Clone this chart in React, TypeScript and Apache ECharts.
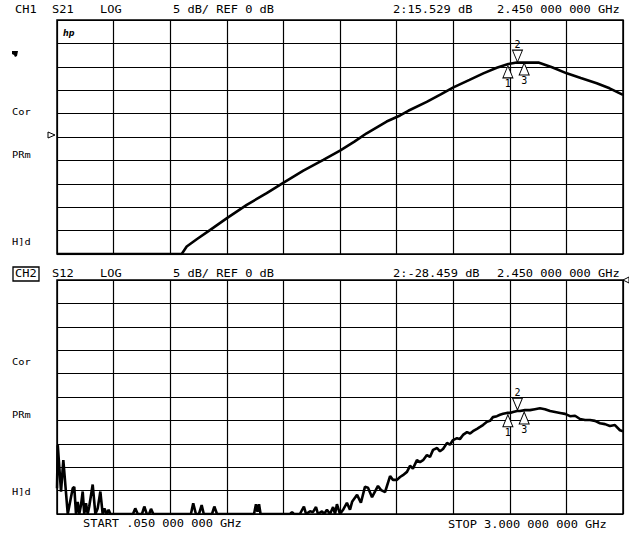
import React, { useEffect, useRef } from "react";
import * as echarts from "echarts";

// Sweep: START .050 GHz, STOP 3.000 GHz, 10 divisions
const START_GHZ = 0.05;
const STOP_GHZ = 3.0;
const DIVISIONS = 10;

// CH1 S21 (dB), REF 0 dB at centre, 5 dB/div
const CH1_FREQ = [0.05, 0.70, 0.726, 0.78, 0.847, 0.934, 1.039, 1.143, 1.229, 1.334, 1.438, 1.525, 1.60, 1.664, 1.768, 1.838, 1.881, 1.977, 2.05, 2.116, 2.20, 2.272, 2.342, 2.402, 2.446, 2.50, 2.559, 2.63, 2.707, 2.78, 2.863, 2.93, 3.0];
const CH1_DB = [-25, -25, -23.4, -21.8, -19.9, -17.4, -14.5, -12.0, -9.8, -7.2, -4.9, -2.9, -1.0, 0.8, 3.3, 4.6, 5.6, 7.5, 9.1, 10.6, 12.2, 13.6, 14.8, 15.6, 15.9, 15.9, 15.9, 14.9, 13.6, 12.6, 11.5, 10.4, 9.0];

// CH2 S12 (dB), REF 0 dB at top, 5 dB/div
const CH2_FREQ = [0.050, 0.054, 0.071, 0.083, 0.106, 0.132, 0.140, 0.149, 0.158, 0.166, 0.175, 0.184, 0.192, 0.201, 0.210, 0.218, 0.236, 0.250, 0.262, 0.276, 0.288, 0.297, 0.309, 0.319, 0.328, 0.446, 0.458, 0.471, 0.493, 0.505, 0.518, 0.530, 0.540, 0.552, 0.748, 0.760, 0.774, 0.790, 0.804, 0.815, 0.858, 0.870, 0.884, 1.077, 1.087, 1.095, 1.103, 1.111, 1.264, 1.275, 1.285, 1.316, 1.337, 1.348, 1.369, 1.384, 1.400, 1.410, 1.431, 1.442, 1.457, 1.473, 1.489, 1.499, 1.509, 1.525, 1.541, 1.561, 1.577, 1.588, 1.614, 1.634, 1.655, 1.671, 1.692, 1.723, 1.739, 1.760, 1.786, 1.801, 1.822, 1.838, 1.853, 1.874, 1.890, 1.905, 1.926, 1.942, 1.958, 1.978, 1.994, 2.010, 2.031, 2.046, 2.062, 2.083, 2.098, 2.114, 2.135, 2.150, 2.166, 2.187, 2.203, 2.218, 2.239, 2.255, 2.270, 2.291, 2.307, 2.322, 2.343, 2.359, 2.375, 2.395, 2.411, 2.427, 2.448, 2.463, 2.489, 2.515, 2.541, 2.567, 2.593, 2.620, 2.646, 2.672, 2.698, 2.724, 2.750, 2.776, 2.802, 2.828, 2.854, 2.880, 2.906, 2.932, 2.958, 2.984, 3.000];
const CH2_DB = [-44.5, -35.3, -45.2, -38.5, -50, -44.5, -44.2, -50, -47.4, -50, -48.1, -45.2, -50, -47.7, -50, -48.4, -43.7, -50, -48.8, -45.2, -50, -48.8, -50, -49.1, -50, -50, -48.8, -50, -50, -48.4, -50, -50, -48.9, -50, -50, -47.7, -50, -50, -48.1, -50, -50, -48.4, -50, -50, -47.9, -49.5, -47.9, -50, -50, -49.6, -50, -50, -48.4, -50, -49.4, -49.6, -48.5, -50, -49.4, -50, -49.1, -50, -48.5, -50, -47.9, -50, -49.1, -47.6, -49.1, -47.4, -45.9, -47.6, -44.2, -44.4, -46.4, -44.0, -44.9, -45.3, -41.9, -42.7, -42.7, -42.1, -41.7, -41.0, -39.7, -40.3, -38.5, -38.9, -38.5, -37.4, -37.8, -36.3, -35.9, -36.6, -36.1, -34.8, -35.2, -34.2, -33.8, -34.0, -33.1, -32.5, -32.8, -32.3, -31.8, -31.4, -31.0, -30.3, -30.1, -29.3, -29.1, -28.8, -28.6, -28.4, -28.4, -28.2, -28.0, -28.0, -27.8, -27.8, -27.6, -27.4, -27.6, -28.0, -28.2, -28.4, -28.6, -29.1, -29.0, -29.7, -29.9, -29.9, -30.1, -30.6, -30.8, -31.2, -31.0, -32.1, -32.3];

// Markers 1, 2, 3
const MARKER_FREQ = [2.40, 2.45, 2.485];
const CH1_MARKER_DB = [15.2, 16.0, 15.8];
const CH2_MARKER_DB = [-28.8, -27.8, -28.2];

const CH1_HEADER = ["CH1", "S21", "LOG", "5 dB/ REF 0 dB", "2:15.529 dB", "2.450 000 000 GHz"];
const CH2_HEADER = ["CH2", "S12", "LOG", "5 dB/ REF 0 dB", "2:-28.459 dB", "2.450 000 000 GHz"];
const SIDE_LABELS = ["Cor", "PRm", "H]d"];
const START_LABEL = "START .050 000 000 GHz";
const STOP_LABEL = "STOP 3.000 000 000 GHz";

const FONT = "DejaVu Sans Mono";
const STEP = (STOP_GHZ - START_GHZ) / DIVISIONS;
const toDiv = (f: number) => (f - START_GHZ) / STEP;

function txt(x: number, y: number, s: string, size = 10, sx = 1.2): any {
  return {
    type: "group",
    x,
    y,
    scaleX: sx,
    children: [
      {
        type: "text",
        style: { text: s, x: 0, y: 0, fontFamily: FONT, fontSize: size, fill: "#000", verticalAlign: "middle", align: "left" },
      },
    ],
  };
}

function markerSeries(ch: number, idx: number, freq: number, db: number): any {
  const down = idx === 1;
  return {
    type: "scatter",
    xAxisIndex: ch,
    yAxisIndex: ch,
    data: [[toDiv(freq), db]],
    symbol: "triangle",
    symbolSize: [10, 12],
    symbolRotate: down ? 180 : 0,
    symbolOffset: [0, down ? -6 : 6],
    itemStyle: { color: "#fff", borderColor: "#000", borderWidth: 1, opacity: 1 },
    label: {
      show: true,
      formatter: String(idx + 1),
      position: down ? "top" : "bottom",
      distance: 0,
      fontFamily: FONT,
      fontSize: 10,
      color: "#000",
    },
    z: 5,
    silent: true,
  };
}

export default function App() {
  const ref = useRef<HTMLDivElement>(null);
  useEffect(() => {
    if (!ref.current) return;
    const chart = echarts.init(ref.current, undefined, { renderer: "svg" });
    const axisCommon = {
      type: "value",
      axisLine: { show: false },
      axisTick: { show: false },
      axisLabel: { show: false },
      splitLine: { show: true, lineStyle: { color: "#000", width: 1.2 } },
    };
    const headerX = [15, 52, 100, 173, 393, 497];
    const graphic: any[] = [];
    CH1_HEADER.forEach((s, i) => graphic.push(txt(headerX[i], 10, s)));
    CH2_HEADER.forEach((s, i) => graphic.push(txt(headerX[i], 274, s)));
    graphic.push({ type: "rect", shape: { x: 13, y: 267, width: 26, height: 14 }, style: { fill: "none", stroke: "#000", lineWidth: 1.3 } });
    const side1 = [112, 155, 242];
    const side2 = [362, 415, 492];
    SIDE_LABELS.forEach((s, i) => {
      graphic.push(txt(12, side1[i], s, 9, 1.15));
      graphic.push(txt(12, side2[i], s, 9, 1.15));
    });
    graphic.push(txt(83, 524, START_LABEL));
    graphic.push(txt(448, 525, STOP_LABEL));
    graphic.push({
      type: "text",
      style: { text: "hp", x: 63, y: 33, fontFamily: "DejaVu Sans", fontStyle: "italic", fontWeight: "bold", fontSize: 8, fill: "#000", verticalAlign: "middle" },
    });
    graphic.push({ type: "polygon", shape: { points: [[12, 51], [18, 51], [17, 56], [15, 57], [14, 55], [12, 54]] }, style: { fill: "#000" } });
    graphic.push({ type: "polygon", shape: { points: [[48, 132], [55, 135], [48, 138]] }, style: { fill: "#fff", stroke: "#000", lineWidth: 1 } });
    graphic.push({ type: "polygon", shape: { points: [[629, 277], [623, 280], [629, 283]] }, style: { fill: "#fff", stroke: "#000", lineWidth: 1 } });

    const lineStyle = { color: "#000", width: 2.6 };
    const series: any[] = [
      {
        type: "line",
        xAxisIndex: 0,
        yAxisIndex: 0,
        data: CH1_FREQ.map((f, i) => [toDiv(f), CH1_DB[i]]),
        showSymbol: false,
        lineStyle,
        z: 3,
      },
      {
        type: "line",
        xAxisIndex: 1,
        yAxisIndex: 1,
        data: CH2_FREQ.map((f, i) => [toDiv(f), CH2_DB[i]]),
        showSymbol: false,
        lineStyle,
        z: 3,
      },
    ];
    MARKER_FREQ.forEach((f, i) => {
      series.push(markerSeries(0, i, f, CH1_MARKER_DB[i]));
      series.push(markerSeries(1, i, f, CH2_MARKER_DB[i]));
    });

    chart.setOption({
      animation: false,
      backgroundColor: "#fff",
      grid: [
        { left: 57, top: 20, width: 566, height: 234, show: true, borderColor: "#000", borderWidth: 1.5, backgroundColor: "transparent" },
        { left: 57, top: 280, width: 566, height: 234, show: true, borderColor: "#000", borderWidth: 1.5, backgroundColor: "transparent" },
      ],
      xAxis: [
        { ...axisCommon, gridIndex: 0, min: 0, max: DIVISIONS, interval: 1 },
        { ...axisCommon, gridIndex: 1, min: 0, max: DIVISIONS, interval: 1 },
      ],
      yAxis: [
        { ...axisCommon, gridIndex: 0, min: -25, max: 25, interval: 5 },
        { ...axisCommon, gridIndex: 1, min: -50, max: 0, interval: 5 },
      ],
      graphic,
      series,
    });
    return () => chart.dispose();
  }, []);
  return <div ref={ref} style={{ position: "absolute", left: 0, top: 0, width: 629, height: 533, background: "#fff" }} />;
}
